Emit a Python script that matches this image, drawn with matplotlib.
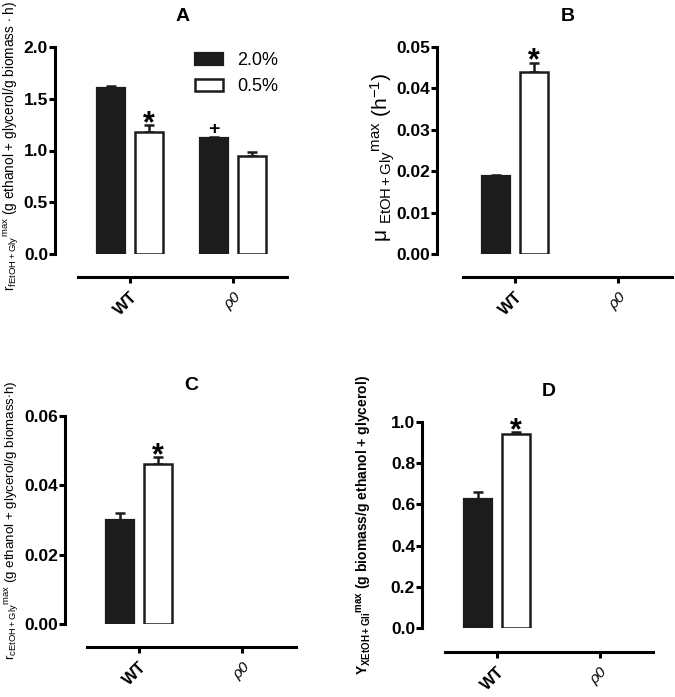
import numpy as np
import matplotlib
matplotlib.use("Agg")
import matplotlib.pyplot as plt
from matplotlib.patches import Patch

plt.rcParams['font.family'] = ['Liberation Sans', 'DejaVu Sans']
plt.rcParams['mathtext.fontset'] = 'custom'
plt.rcParams['mathtext.rm'] = 'Liberation Sans'
plt.rcParams['mathtext.it'] = 'Liberation Sans:italic'
plt.rcParams['mathtext.bf'] = 'Liberation Sans:bold'

groups = ['WT', 'ρ0']
series = ['2.0%', '0.5%']

A_high = [1.605, 1.12]
A_high_err = [0.02, 0.01]
A_low = [1.18, 0.95]
A_low_err = [0.065, 0.04]

B_high = [0.0188, np.nan]
B_high_err = [0.0003, np.nan]
B_low = [0.0440, np.nan]
B_low_err = [0.0022, np.nan]

C_high = [0.030, np.nan]
C_high_err = [0.0019, np.nan]
C_low = [0.0462, np.nan]
C_low_err = [0.002, np.nan]

D_high = [0.624, np.nan]
D_high_err = [0.034, np.nan]
D_low = [0.94, np.nan]
D_low_err = [0.01, np.nan]

W, H = 675, 697
fig = plt.figure(figsize=(W / 100, H / 100), dpi=100)
DARK = '#1c1c1c'


def px_axes(left, right, bottom, top):
    return fig.add_axes([left / W, 1 - bottom / H, (right - left) / W, (bottom - top) / H])


def style(ax, ymax, yticks, fmt, left_off, bottom_off):
    ax.set_ylim(0, ymax)
    ax.set_xlim(-0.505, 1.52)
    for s in ['top', 'right']:
        ax.spines[s].set_visible(False)
    ax.spines['left'].set_position(('outward', left_off * 0.72))
    ax.spines['bottom'].set_position(('outward', bottom_off * 0.72))
    ax.spines['left'].set_linewidth(2.2)
    ax.spines['bottom'].set_linewidth(2.2)
    ax.spines['left'].set_bounds(0, ymax)
    ax.set_yticks(yticks)
    ax.set_yticklabels([fmt.format(v) for v in yticks], fontsize=12.5, fontweight='bold')
    ax.set_xticks(range(len(groups)))
    ax.set_xticklabels(groups)
    labs = ax.get_xticklabels()
    labs[0].set_fontweight('bold')
    labs[0].set_fontsize(12)
    labs[1].set_fontstyle('italic')
    labs[1].set_fontsize(11)
    for lab in labs:
        lab.set_rotation(45)
        lab.set_ha('right')
        lab.set_rotation_mode('anchor')
    ax.tick_params(axis='both', width=2.2, length=4, direction='out')
    ax.tick_params(axis='y', pad=1)
    ax.tick_params(axis='x', pad=5)
    ax.patch.set_alpha(0)


def draw(ax, high, high_err, low, low_err):
    x = np.arange(len(groups))
    off, w = 0.185, 0.27
    ax.bar(x - off, high, w, color=DARK, edgecolor=DARK, linewidth=1.6, zorder=3)
    ax.bar(x + off, low, w, color='white', edgecolor=DARK, linewidth=1.8, zorder=3)
    z = np.zeros(len(groups))
    ax.errorbar(x - off, high, yerr=[z, np.array(high_err)], fmt='none', ecolor=DARK,
                elinewidth=1.8, capsize=3.5, capthick=1.8, zorder=2)
    ax.errorbar(x + off, low, yerr=[z, np.array(low_err)], fmt='none', ecolor=DARK,
                elinewidth=1.8, capsize=3.5, capthick=1.8, zorder=2)


def mark(ax, x, y, s, size, dy):
    ax.annotate(s, xy=(x, y), xytext=(0, dy), textcoords='offset points', ha='center',
                va='baseline', fontsize=size, fontweight='bold')


# Panel A
axA = px_axes(78, 287, 254, 47)
draw(axA, A_high, A_high_err, A_low, A_low_err)
style(axA, 2.0, [0.0, 0.5, 1.0, 1.5, 2.0], '{:.1f}', 23, 23)
axA.set_title('A', fontsize=14, fontweight='bold', pad=19)
mark(axA, 0.185, A_low[0] + A_low_err[0], '*', 22, -5)
mark(axA, 1 - 0.185, A_high[1] + A_high_err[1], '+', 14, 2)
axA.legend(handles=[Patch(facecolor=DARK, edgecolor=DARK, linewidth=1.6),
                    Patch(facecolor='white', edgecolor=DARK, linewidth=1.8)],
           labels=series, loc='upper left', bbox_to_anchor=(0.56, 0.975), frameon=False,
           fontsize=13, handlelength=1.55, handleheight=0.6, handletextpad=0.8,
           labelspacing=0.5, borderpad=0, borderaxespad=0)
labA = axA.set_ylabel(r'r$_{\mathregular{fEtOH+Gly}}$$^{\mathregular{max}}$ (g ethanol + glycerol/g biomass $\cdot$ h)',
                      fontsize=8.5)

# Panel B
axB = px_axes(463, 672, 254, 47)
draw(axB, B_high, B_high_err, B_low, B_low_err)
style(axB, 0.05, [0.0, 0.01, 0.02, 0.03, 0.04, 0.05], '{:.2f}', 26, 23)
axB.set_title('B', fontsize=14, fontweight='bold', pad=19)
mark(axB, 0.185, B_low[0] + B_low_err[0], '*', 22, -5)
labB = axB.set_ylabel(r'$\mathregular{\mu}$ $_{\mathregular{EtOH+Gly}}$$^{\mathregular{max}}$ $\mathregular{(h^{-1})}$',
                      fontsize=12)

# Panel C
axC = px_axes(87, 296, 624, 416)
draw(axC, C_high, C_high_err, C_low, C_low_err)
style(axC, 0.06, [0.0, 0.02, 0.04, 0.06], '{:.2f}', 22, 23)
axC.set_title('C', fontsize=14, fontweight='bold', pad=19)
mark(axC, 0.185, C_low[0] + C_low_err[0], '*', 22, -5)
labC = axC.set_ylabel(r'r$_{\mathregular{cEtOH+Gly}}$$^{\mathregular{max}}$ (g ethanol + glycerol/g biomass$\cdot$h)',
                      fontsize=8.5)

# Panel D
axD = px_axes(445, 653, 628, 422)
draw(axD, D_high, D_high_err, D_low, D_low_err)
style(axD, 1.0, [0.0, 0.2, 0.4, 0.6, 0.8, 1.0], '{:.1f}', 23, 24)
axD.set_title('D', fontsize=14, fontweight='bold', pad=19)
mark(axD, 0.185, D_low[0] + D_low_err[0], '*', 22, -5)
labD = axD.set_ylabel(r'Y$_{\mathbf{XEtOH+Gli}}$$^{\mathbf{max}}$ (g biomass/g ethanol + glycerol)',
                      fontsize=10, fontweight='bold')

# fit y-label lengths to the reference layout (pixel targets)
targets = [
    (axA, labA, 288, 146, 21, 78, 209, 254, 207),
    (axB, labB, 170, 157, 397, 463, 209, 254, 207),
    (axC, labC, 280, 520, 21, 87, 209, 624, 208),
    (axD, labD, 300, 525, 374, 445, 208, 628, 206),
]
fig.canvas.draw()
r = fig.canvas.get_renderer()
for ax, lab, length, cy, rx, left, width, bottom, height in targets:
    h = lab.get_window_extent(r).height
    lab.set_fontsize(lab.get_fontsize() * length / h)
    ax.yaxis.set_label_coords((rx - left) / width, (bottom - cy) / height)

fig.savefig('out.png', dpi=100)
